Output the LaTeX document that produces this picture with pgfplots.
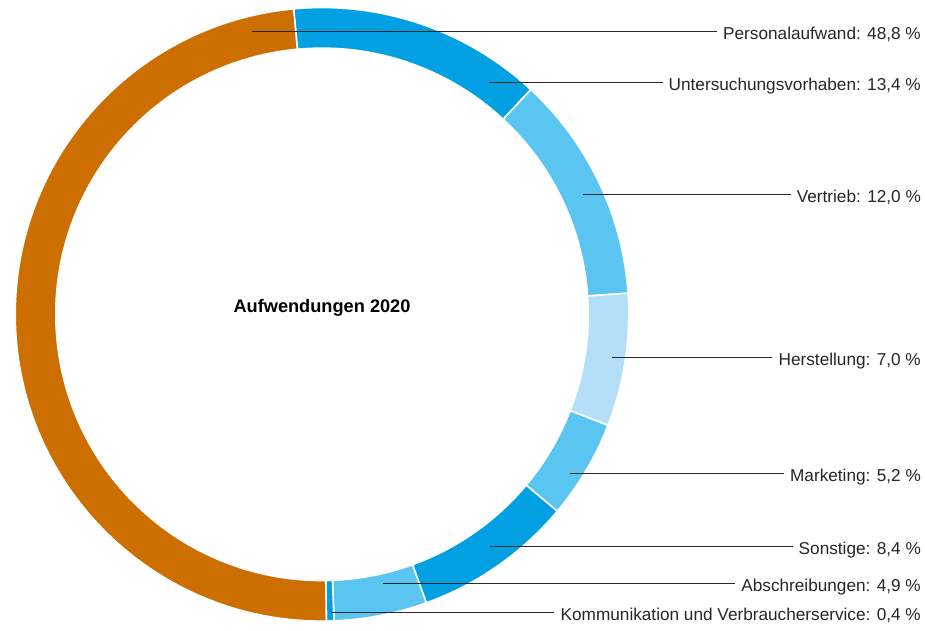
\documentclass[border=0pt]{standalone}
\usepackage{pgfplots}
\pgfplotsset{compat=1.18}
\usepackage{fontspec}
\setmainfont{Liberation Sans}
\definecolor{cOrange}{RGB}{204,110,0}
\definecolor{cDark}{RGB}{0,160,226}
\definecolor{cLight}{RGB}{91,197,241}
\definecolor{cPale}{RGB}{179,224,248}
\definecolor{cLine}{RGB}{40,40,40}
\begin{document}
\begin{tikzpicture}
\begin{axis}[x=1pt,y=1pt,xmin=0,xmax=925,ymin=0,ymax=630,hide axis,clip=false]
\path (axis cs:0,0) rectangle (axis cs:925,630);
\gdef\cur{95.3}
\foreach \v/\c in {13.4/cDark,12.0/cLight,7.0/cPale,5.2/cLight,8.4/cDark,4.9/cLight,0.4/cDark,48.8/cOrange}{
  \pgfmathsetmacro\nxt{\cur-\v/100.1*360}
  \edef\tmp{\noexpand\fill[\c,draw=white,line width=1.6pt,shift={(axis cs:322,316)}] (\cur:306.8pt) arc[start angle=\cur,end angle=\nxt,radius=306.8pt] -- (\nxt:266.2pt) arc[start angle=\nxt,end angle=\cur,radius=266.2pt] -- cycle;}
  \tmp
  \global\let\cur\nxt
}
\node[font=\bfseries\fontsize{18.2}{21}\selectfont] at (axis cs:322,322) {Aufwendungen 2020};
\tikzset{lbl/.style={anchor=base east,inner sep=0pt,font=\fontsize{17.2}{20}\selectfont,text=black!85}}
\node[lbl] (n1) at (axis cs:921,591) {Personalaufwand: 48,8~\%};
\node[lbl] (n2) at (axis cs:921,540) {Untersuchungsvorhaben: 13,4~\%};
\node[lbl] (n3) at (axis cs:921,428) {Vertrieb: 12,0~\%};
\node[lbl] (n4) at (axis cs:921,265) {Herstellung: 7,0~\%};
\node[lbl] (n5) at (axis cs:921,149) {Marketing: 5,2~\%};
\node[lbl] (n6) at (axis cs:921,76) {Sonstige: 8,4~\%};
\node[lbl] (n7) at (axis cs:921,39) {Abschreibungen: 4,9~\%};
\node[lbl] (n8) at (axis cs:921,10) {Kommunikation und Verbraucherservice: 0,4~\%};
\coordinate (s1) at (axis cs:252,599);
\coordinate (s2) at (axis cs:489,548);
\coordinate (s3) at (axis cs:583,436);
\coordinate (s4) at (axis cs:612,273);
\coordinate (s5) at (axis cs:570,157);
\coordinate (s6) at (axis cs:490,84);
\coordinate (s7) at (axis cs:383,47);
\coordinate (s8) at (axis cs:331,18);
\draw[cLine,line width=0.8pt,shorten >=6pt] (s1) -- (n1.west |- s1);
\draw[cLine,line width=0.8pt,shorten >=6pt] (s2) -- (n2.west |- s2);
\draw[cLine,line width=0.8pt,shorten >=6pt] (s3) -- (n3.west |- s3);
\draw[cLine,line width=0.8pt,shorten >=6pt] (s4) -- (n4.west |- s4);
\draw[cLine,line width=0.8pt,shorten >=6pt] (s5) -- (n5.west |- s5);
\draw[cLine,line width=0.8pt,shorten >=6pt] (s6) -- (n6.west |- s6);
\draw[cLine,line width=0.8pt,shorten >=6pt] (s7) -- (n7.west |- s7);
\draw[cLine,line width=0.8pt,shorten >=6pt] (s8) -- (n8.west |- s8);
\end{axis}
\end{tikzpicture}
\end{document}
